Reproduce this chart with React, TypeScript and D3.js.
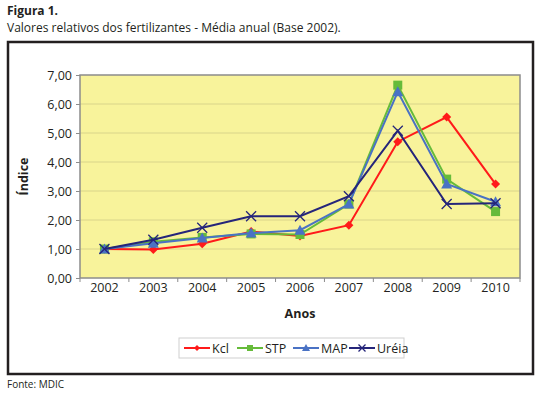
import * as d3 from 'd3'
import { useEffect, useRef } from 'react'

const years = ['2002', '2003', '2004', '2005', '2006', '2007', '2008', '2009', '2010']
const kcl = [1.0, 0.98, 1.18, 1.6, 1.45, 1.82, 4.7, 5.55, 3.24]
const stp = [1.0, 1.25, 1.4, 1.52, 1.5, 2.55, 6.65, 3.41, 2.29]
const map = [1.0, 1.2, 1.38, 1.55, 1.65, 2.55, 6.42, 3.24, 2.63]
const ureia = [1.0, 1.32, 1.73, 2.13, 2.13, 2.82, 5.08, 2.55, 2.58]
const yTicks = [0, 1, 2, 3, 4, 5, 6, 7]

const series = [
  { name: 'Kcl', values: kcl, color: '#ff1a1a', marker: 'diamond' },
  { name: 'STP', values: stp, color: '#66bb3a', marker: 'square' },
  { name: 'MAP', values: map, color: '#4a72c4', marker: 'triangle' },
  { name: 'Uréia', values: ureia, color: '#25257a', marker: 'x' },
]

const FONT = '"Liberation Sans Narrow", "Open Sans", sans-serif'

const App = () => {
  const ref = useRef<SVGSVGElement>(null)

  useEffect(() => {
    const svg = d3.select(ref.current)
    svg.selectAll('*').remove()

    // testo in alto
    svg.append('text').attr('x', 7).attr('y', 15)
      .attr('font-family', FONT).attr('font-size', 12).attr('font-weight', 'bold')
      .attr('fill', '#231f20').text('Figura 1.')
    svg.append('text').attr('x', 7).attr('y', 32)
      .attr('font-family', FONT).attr('font-size', 12)
      .attr('fill', '#231f20').text('Valores relativos dos fertilizantes - Média anual (Base 2002).')

    // cornice
    svg.append('rect').attr('x', 8).attr('y', 42).attr('width', 525).attr('height', 332)
      .attr('fill', 'white').attr('stroke', '#231f20').attr('stroke-width', 2.5)

    const margin = { top: 75, left: 80 }
    const width = 440
    const height = 203

    const g = svg.append('g').attr('transform', `translate(${margin.left},${margin.top})`)

    const x = d3.scaleBand().domain(years).range([0, width])
    const y = d3.scaleLinear().domain([0, 7]).range([height, 0])

    g.append('rect').attr('width', width).attr('height', height)
      .attr('fill', '#f8f39b')

    // griglia
    g.selectAll('.grid')
      .data(yTicks.slice(1, -1))
      .enter()
      .append('line')
      .attr('x1', 0).attr('x2', width)
      .attr('y1', d => y(d)).attr('y2', d => y(d))
      .attr('stroke', '#d9d48a').attr('stroke-width', 1)

    g.append('rect').attr('width', width).attr('height', height)
      .attr('fill', 'none').attr('stroke', '#8c8c8c').attr('stroke-width', 1.5)

    // asse y
    const yAxis = g.append('g')
      .call(d3.axisLeft(y).tickValues(yTicks).tickSize(4).tickFormat(d => d3.format('.2f')(d as number).replace('.', ',')))
    yAxis.select('.domain').remove()
    yAxis.selectAll('line').attr('stroke', '#8c8c8c')
    yAxis.selectAll('text').attr('font-family', FONT).attr('font-size', 12.5).attr('fill', '#231f20').attr('dx', -1)

    // asse x
    const xAxis = g.append('g').attr('transform', `translate(0,${height})`)
      .call(d3.axisBottom(x).tickSize(0))
    xAxis.select('.domain').remove()
    xAxis.selectAll('text').attr('font-family', FONT).attr('font-size', 12.5).attr('fill', '#231f20').attr('dy', 11)
    g.selectAll('.xtick')
      .data(years.concat(['end']))
      .enter()
      .append('line')
      .attr('x1', (d, i) => i * x.bandwidth()).attr('x2', (d, i) => i * x.bandwidth())
      .attr('y1', height).attr('y2', height + 4)
      .attr('stroke', '#8c8c8c')

    svg.append('text').attr('x', margin.left + width / 2).attr('y', 318)
      .attr('text-anchor', 'middle').attr('font-family', FONT).attr('font-size', 12.5)
      .attr('font-weight', 'bold').attr('fill', '#231f20').text('Anos')
    svg.append('text').attr('transform', `translate(28,${margin.top + height / 2}) rotate(-90)`)
      .attr('text-anchor', 'middle').attr('font-family', FONT).attr('font-size', 12.5)
      .attr('font-weight', 'bold').attr('fill', '#231f20').text('Índice')

    const drawMarker = (sel, kind, color, cx, cy, s) => {
      if (kind === 'diamond') {
        sel.append('path').attr('d', `M${cx},${cy - s}L${cx + s},${cy}L${cx},${cy + s}L${cx - s},${cy}Z`).attr('fill', color)
      } else if (kind === 'square') {
        sel.append('rect').attr('x', cx - s).attr('y', cy - s).attr('width', 2 * s).attr('height', 2 * s).attr('fill', color)
      } else if (kind === 'triangle') {
        sel.append('path').attr('d', `M${cx},${cy - s - 1}L${cx + s + 1},${cy + s}L${cx - s - 1},${cy + s}Z`).attr('fill', color)
      } else {
        sel.append('path').attr('d', `M${cx - s},${cy - s}L${cx + s},${cy + s}M${cx - s},${cy + s}L${cx + s},${cy - s}`)
          .attr('stroke', color).attr('stroke-width', 1.3).attr('fill', 'none')
      }
    }

    const line = d3.line<number>()
      .x((d, i) => x(years[i])! + x.bandwidth() / 2)
      .y(d => y(d))

    series.forEach(s => {
      g.append('path').datum(s.values)
        .attr('fill', 'none').attr('stroke', s.color).attr('stroke-width', 2)
        .attr('d', line)
      s.values.forEach((v, i) => {
        drawMarker(g, s.marker, s.color, x(years[i])! + x.bandwidth() / 2, y(v), s.marker === 'x' ? 5 : 4.5)
      })
    })

    // legenda
    const lg = svg.append('g').attr('transform', 'translate(179,338)')
    lg.append('rect').attr('width', 225).attr('height', 20)
      .attr('fill', 'white').attr('stroke', '#cfcfcf')
    const offsets = [3, 56, 112, 168]
    series.forEach((s, i) => {
      const ox = offsets[i]
      lg.append('line').attr('x1', ox + 2).attr('x2', ox + 28).attr('y1', 10).attr('y2', 10)
        .attr('stroke', s.color).attr('stroke-width', 2)
      drawMarker(lg, s.marker, s.color, ox + 15, 10, s.marker === 'x' ? 3.5 : 3)
      lg.append('text').attr('x', ox + 30).attr('y', 15)
        .attr('font-family', FONT).attr('font-size', 12.5).attr('fill', '#231f20').text(s.name)
    })

    svg.append('text').attr('x', 7).attr('y', 388)
      .attr('font-family', FONT).attr('font-size', 10).attr('fill', '#231f20').text('Fonte: MDIC')
  }, [])

  return (
    <svg ref={ref} width={541} height={397} style={{ position: 'absolute', left: 0, top: 0, background: 'white' }} />
  )
}

export default App
